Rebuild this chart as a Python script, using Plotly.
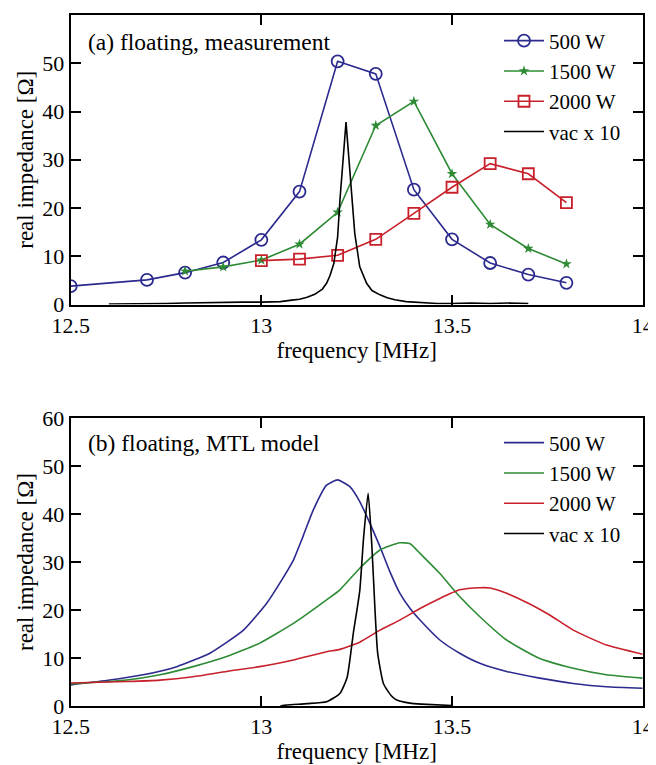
import plotly.graph_objects as go

# ---------------- data ----------------
# (a) measurement
f_meas_500 = [12.5, 12.7, 12.8, 12.9, 13.0, 13.1, 13.2, 13.3, 13.4, 13.5, 13.6, 13.7, 13.8]
z_meas_500 = [3.8, 5.1, 6.6, 8.7, 13.4, 23.4, 50.4, 47.8, 23.8, 13.5, 8.6, 6.2, 4.5]

f_meas_1500 = [12.8, 12.9, 13.0, 13.1, 13.2, 13.3, 13.4, 13.5, 13.6, 13.7, 13.8]
z_meas_1500 = [6.9, 7.8, 9.2, 12.5, 19.1, 37.1, 42.1, 27.1, 16.6, 11.6, 8.4]

f_meas_2000 = [13.0, 13.1, 13.2, 13.3, 13.4, 13.5, 13.6, 13.7, 13.8]
z_meas_2000 = [9.1, 9.4, 10.2, 13.5, 18.9, 24.3, 29.2, 27.1, 21.1]

f_meas_vac = [12.60, 12.65, 12.70, 12.75, 12.80, 12.85, 12.90, 12.95, 13.00, 13.05,
              13.08, 13.10, 13.12, 13.14, 13.16, 13.171, 13.18, 13.19, 13.20, 13.206,
              13.222, 13.232, 13.245, 13.258, 13.276, 13.29, 13.311, 13.33, 13.35,
              13.38, 13.42, 13.46, 13.50, 13.55, 13.60, 13.65, 13.70]
z_meas_vac = [0.1, 0.1, 0.2, 0.2, 0.3, 0.4, 0.4, 0.5, 0.5, 0.6,
              0.9, 1.1, 1.5, 2.1, 3.2, 4.4, 6.0, 8.5, 14.0, 21.6,
              37.8, 28.5, 14.7, 7.8, 4.4, 2.9, 2.0, 1.4, 1.0,
              0.6, 0.4, 0.2, 0.2, 0.3, 0.2, 0.3, 0.2]

# (b) MTL model
f_mod_500 = [12.5, 12.603, 12.69, 12.778, 12.865, 12.953, 13.014, 13.05, 13.084, 13.11, 13.136,
             13.171, 13.2, 13.232, 13.258, 13.285, 13.311, 13.337, 13.363, 13.39, 13.416,
             13.468, 13.52, 13.573, 13.643, 13.73, 13.818, 13.905, 14.0]
z_mod_500 = [4.4, 5.4, 6.5, 8.2, 11.0, 15.8, 21.4, 25.8, 30.4, 35.5, 40.8,
             46.0, 47.1, 45.7, 42.6, 38.0, 33.2, 28.0, 23.5, 20.3, 17.9,
             13.75, 11.0, 8.9, 7.2, 5.8, 4.7, 4.0, 3.7]

f_mod_1500 = [12.5, 12.647, 12.734, 12.821, 12.909, 12.996, 13.084, 13.171, 13.206, 13.258,
              13.311, 13.363, 13.39, 13.416, 13.468, 13.52, 13.573, 13.643, 13.73, 13.818,
              13.905, 14.0]
z_mod_1500 = [4.6, 5.4, 6.5, 8.2, 10.3, 13.1, 17.2, 22.1, 24.2, 28.7,
              32.5, 34.0, 33.8, 31.8, 27.6, 22.8, 18.6, 13.75, 9.9, 7.85,
              6.5, 5.8]

f_mod_2000 = [12.5, 12.647, 12.734, 12.821, 12.909, 12.996, 13.084, 13.171, 13.206, 13.258,
              13.311, 13.363, 13.416, 13.468, 13.52, 13.573, 13.6, 13.643, 13.7, 13.755,
              13.818, 13.905, 14.0]
z_mod_2000 = [4.8, 5.1, 5.4, 6.1, 7.2, 8.2, 9.6, 11.3, 11.8, 13.3,
              15.8, 17.9, 20.3, 22.4, 24.2, 24.65, 24.6, 23.5, 21.4, 19.0,
              15.8, 12.7, 10.8]

f_mod_vac = [13.05, 13.066, 13.12, 13.171, 13.206, 13.225, 13.241, 13.258, 13.268, 13.28,
             13.29, 13.298, 13.305, 13.32, 13.34, 13.355, 13.39, 13.42, 13.5]
z_mod_vac = [0.0, 0.2, 0.5, 0.9, 2.6, 6.0, 15.1, 24.0, 35.0, 44.3,
             33.0, 20.0, 11.0, 4.7, 2.2, 1.25, 0.6, 0.4, 0.1]

series_names = ["500 W", "1500 W", "2000 W", "vac x 10"]
x_ticks = [12.5, 13, 13.5, 14]
x_tick_text = ["12.5", "13", "13.5", "14"]
y_ticks = [0, 10, 20, 30, 40, 50, 60]

# ---------------- style ----------------
FONT = "Liberation Serif"
FS = 23
BLUE = "#2B2A8E"
GREEN = "#2E8B35"
RED = "#C8202B"
BLACK = "#000000"

# page body has an 8px default margin; lay the figure out in page pixels
OFF = 8
W, H = 656 - OFF, 765 - OFF


def px(x):
    return (x - OFF) / W


def py(y):
    return 1 - (y - OFF) / H


fig = go.Figure()

# top panel
fig.add_trace(go.Scatter(x=f_meas_500, y=z_meas_500, name=series_names[0], mode="lines+markers",
                         line=dict(color=BLUE, width=1.6),
                         marker=dict(symbol="circle-open", size=12, color=BLUE, line=dict(width=1.8)),
                         xaxis="x", yaxis="y", legend="legend"))
fig.add_trace(go.Scatter(x=f_meas_1500, y=z_meas_1500, name=series_names[1], mode="lines+markers",
                         line=dict(color=GREEN, width=1.6),
                         marker=dict(symbol="star", size=8, color=GREEN),
                         xaxis="x", yaxis="y", legend="legend"))
fig.add_trace(go.Scatter(x=f_meas_2000, y=z_meas_2000, name=series_names[2], mode="lines+markers",
                         line=dict(color=RED, width=1.6),
                         marker=dict(symbol="square-open", size=11, color=RED, line=dict(width=1.8)),
                         xaxis="x", yaxis="y", legend="legend"))
fig.add_trace(go.Scatter(x=f_meas_vac, y=z_meas_vac, name=series_names[3], mode="lines",
                         line=dict(color=BLACK, width=1.6),
                         xaxis="x", yaxis="y", legend="legend"))

# bottom panel
for fx, zy, nm, col in [(f_mod_500, z_mod_500, series_names[0], BLUE),
                        (f_mod_1500, z_mod_1500, series_names[1], GREEN),
                        (f_mod_2000, z_mod_2000, series_names[2], RED),
                        (f_mod_vac, z_mod_vac, series_names[3], BLACK)]:
    fig.add_trace(go.Scatter(x=fx, y=zy, name=nm, mode="lines",
                             line=dict(color=col, width=1.6, shape="spline", smoothing=0.5),
                             xaxis="x2", yaxis="y2", legend="legend2"))

X_DOM = [px(70.7), px(642.7)]
Y_DOM_TOP = [py(304.5), py(15)]
Y_DOM_BOT = [py(706), py(418)]

axis_common = dict(showline=True, linewidth=2, linecolor="black", mirror="ticks",
                   ticks="inside", ticklen=10, tickwidth=1.5, tickcolor="black",
                   showgrid=False, zeroline=False, automargin=False,
                   tickfont=dict(family=FONT, size=22, color="black"))

xa = dict(axis_common, range=[12.5, 14], tickvals=x_ticks, ticktext=x_tick_text,
          title=dict(text="frequency [MHz]", font=dict(family=FONT, size=FS, color="black"), standoff=0),
          domain=X_DOM)
ya = dict(axis_common, range=[0, 60], tickvals=y_ticks,
          title=dict(text="real impedance [Ω]", font=dict(family=FONT, size=FS, color="black"), standoff=2))

LEG_X = px(499)
LEG_FONT = 21
fig.update_layout(
    width=W, height=H,
    margin=dict(l=0, r=0, t=0, b=0),
    paper_bgcolor="white", plot_bgcolor="white",
    font=dict(family=FONT, size=FS, color="black"),
    xaxis=dict(xa, anchor="y"),
    yaxis=dict(ya, domain=Y_DOM_TOP, anchor="x"),
    xaxis2=dict(xa, anchor="y2"),
    yaxis2=dict(ya, domain=Y_DOM_BOT, anchor="x2"),
    legend=dict(x=LEG_X, y=py(20.5), xanchor="left", yanchor="top",
                bgcolor="rgba(0,0,0,0)", font=dict(family=FONT, size=LEG_FONT),
                tracegroupgap=0, itemwidth=40),
    legend2=dict(x=LEG_X, y=py(422.5), xanchor="left", yanchor="top",
                 bgcolor="rgba(0,0,0,0)", font=dict(family=FONT, size=LEG_FONT),
                 tracegroupgap=0, itemwidth=40),
    showlegend=True,
)

fig.add_annotation(text="(a) floating, measurement", xref="paper", yref="paper",
                   x=px(86), y=py(41.5), xanchor="left", yanchor="middle",
                   showarrow=False, font=dict(family=FONT, size=23.5, color="black"))
fig.add_annotation(text="(b) floating, MTL model", xref="paper", yref="paper",
                   x=px(86), y=py(443), xanchor="left", yanchor="middle",
                   showarrow=False, font=dict(family=FONT, size=23.5, color="black"))

fig.write_html("out.html")
